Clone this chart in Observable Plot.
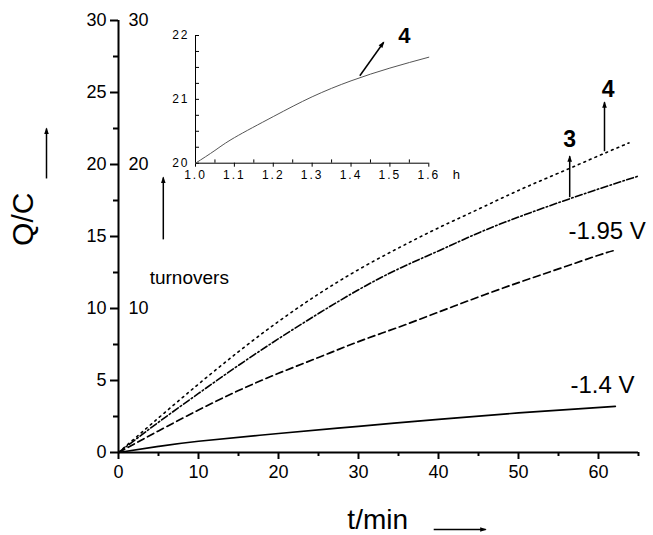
<!DOCTYPE html>
<html><head><meta charset="utf-8">
<script src="https://cdn.jsdelivr.net/npm/d3@7"></script>
<script src="https://cdn.jsdelivr.net/npm/@observablehq/plot@0.6"></script>
<style>
body{margin:0;background:#fff;}
#wrap{position:relative;width:653px;height:535px;overflow:hidden;}
#wrap svg{position:absolute;left:0;top:0;background:transparent;overflow:visible;}
</style></head><body><div id="wrap"></div>
<script>
// ---- main chart data (t in min, Q/C) ----
const t4 = [0,5,10,15,20,25,30,35,40,45,50,55,60,63.8];
const q4 = [0,2.4,4.75,7.0,9.1,11.0,12.7,14.2,15.6,16.9,18.2,19.4,20.6,21.5];
const t3 = [0,5,10,15,20,25,30,35,40,45,50,55,60,65];
const q3 = [0,2.1,4.1,6.05,7.9,9.65,11.3,12.75,14.0,15.25,16.35,17.35,18.3,19.2];
const tD = [0,5,10,15,20,25,30,35,40,45,50,55,60,62.1];
const qD = [0,1.5,2.95,4.3,5.5,6.6,7.7,8.7,9.75,10.8,11.8,12.75,13.7,14.05];
const tS = [0,5,10,20,30,40,50,62.1];
const qS = [0,0.42,0.78,1.32,1.82,2.3,2.75,3.2];

const xMajor = [0,10,20,30,40,50,60];
const xMinor = [5,15,25,35,45,55,65];
const yMajor = [0,5,10,15,20,25,30];
const yMinor = [2.5,7.5,12.5,17.5,22.5,27.5];
const turnoverTicks = [10,20,30];

const curveLabelText = ["-1.95 V","-1.4 V"];
const curveLabelX = [56.25,56.5];
const curveLabelY = [14.86,4.1];

const numLabelText = ["3","4"];
const numLabelX = [56.4,61.2];
const numLabelY = [21.2,24.67];

// arrows: [x1,y1,x2,y2]
const arrowX1 = [56.4,60.75,-9,5.6,39.4];
const arrowY1 = [17.73,20.92,19.03,14.8,-5.35];
const arrowX2 = [56.4,60.75,-9,5.6,45.9];
const arrowY2 = [20.58,24.33,22.5,19.1,-5.35];

// ---- inset data (t in h) ----
const tInset = [1.0,1.05,1.1,1.2,1.3,1.4,1.5,1.6];
const qInset = [20,20.2,20.4,20.73,21.04,21.29,21.49,21.66];
const insetXMajor = [1.0,1.1,1.2,1.3,1.4,1.5,1.6];
const insetXMinor = [1.05,1.15,1.25,1.35,1.45,1.55];
const insetYMajor = [20,21,22];
const insetYAll = [20,20.25,20.5,20.75,21,21.25,21.5,21.75,22];

const font = "Liberation Sans, Arial, sans-serif";
const pts = (t,q) => t.map((x,i)=>({t:x,q:q[i]}));
const arrows = arrowX1.map((x,i)=>({x1:x,y1:arrowY1[i],x2:arrowX2[i],y2:arrowY2[i]}));
const curveLabels = curveLabelText.map((s,i)=>({s,x:curveLabelX[i],y:curveLabelY[i]}));
const numLabels = numLabelText.map((s,i)=>({s,x:numLabelX[i],y:numLabelY[i]}));

function fillMarkers(svg){
  d3.select(svg).selectAll("marker").each(function(){
    const m = d3.select(this);
    m.attr("viewBox","-6 -5 10 10").attr("markerUnits","userSpaceOnUse")
     .attr("markerWidth",10).attr("markerHeight",10);
    m.selectAll("*").remove();
    m.append("path").attr("d","M-5.5,-2.3L1,0L-5.5,2.3Z").attr("fill","black").attr("stroke","none");
  });
}

const main = Plot.plot({
  width:653, height:535,
  marginLeft:118, marginRight:15, marginTop:20, marginBottom:83,
  x:{domain:[0,65], label:null},
  y:{domain:[0,30], label:null},
  style:{fontFamily:font, background:"transparent", color:"black"},
  marks:[
    Plot.axisY({ticks:yMajor, tickSize:8, tickPadding:4, fontSize:18, strokeWidth:2, label:null}),
    Plot.axisY({ticks:yMinor, tickSize:5, text:null, strokeWidth:2, label:null}),
    Plot.axisX({ticks:xMajor, tickSize:7, tickPadding:6, fontSize:18, strokeWidth:2, label:null}),
    Plot.axisX({ticks:xMinor, tickSize:4, text:null, strokeWidth:2, label:null}),
    Plot.ruleX([0],{y1:0,y2:30,strokeWidth:2}),
    Plot.ruleY([0],{x1:0,x2:65,strokeWidth:2}),
    Plot.text(turnoverTicks,{x:()=>0, y:d=>d, dx:10, textAnchor:"start", fontSize:18}),
    Plot.line(pts(tS,qS),{x:"t",y:"q",strokeWidth:1.7,curve:"natural"}),
    Plot.line(pts(tD,qD),{x:"t",y:"q",strokeWidth:1.7,strokeDasharray:"7,4",curve:"natural"}),
    Plot.line(pts(t3,q3),{x:"t",y:"q",strokeWidth:1.6,strokeDasharray:"7,2.5,1.5,2.5",curve:"natural"}),
    Plot.line(pts(t4,q4),{x:"t",y:"q",strokeWidth:1.6,strokeDasharray:"1.8,4.2",curve:"natural"}),
    Plot.link(arrows,{x1:"x1",y1:"y1",x2:"x2",y2:"y2",strokeWidth:1.5,markerEnd:"arrow"}),
    Plot.text(curveLabels,{x:"x",y:"y",text:"s",textAnchor:"start",lineAnchor:"bottom",fontSize:24}),
    Plot.text(numLabels,{x:"x",y:"y",text:"s",textAnchor:"middle",lineAnchor:"bottom",fontSize:23,fontWeight:"bold"}),
    Plot.text(["Q/C"],{x:()=>-10.66,y:()=>16.2,rotate:-90,textAnchor:"middle",lineAnchor:"bottom",fontSize:30}),
    Plot.text(["t/min"],{x:()=>32.4,y:()=>-5.3,textAnchor:"middle",lineAnchor:"bottom",fontSize:28}),
    Plot.text(["turnovers"],{x:()=>3.9,y:()=>11.7,textAnchor:"start",lineAnchor:"bottom",fontSize:19})
  ]
});
fillMarkers(main);

const insetArrow = [{x1:1.4226,y1:21.37,x2:1.484,y2:21.895}];
const inset = Plot.plot({
  width:300, height:200,
  marginLeft:35, marginRight:31.7, marginTop:35, marginBottom:37.3,
  x:{domain:[1.0,1.6], label:null},
  y:{domain:[20,22], label:null},
  style:{fontFamily:font, background:"transparent", color:"black"},
  marks:[
    Plot.axisY({ticks:insetYMajor, tickSize:0, tickPadding:6, fontSize:12, label:null, tickFormat:d=>String(d)}),
    Plot.ruleY(insetYAll,{insetRight:229.3, strokeWidth:1}),
    Plot.axisX({ticks:insetXMajor, tickSize:4, tickPadding:3, fontSize:12, label:null, tickFormat:d=>d.toFixed(1)}),
    Plot.ruleX(insetXMinor,{insetTop:124.4, strokeWidth:1}),
    Plot.ruleX([1.0],{y1:20,y2:22,strokeWidth:1}),
    Plot.ruleY([20],{x1:1.0,x2:1.6,strokeWidth:1}),
    Plot.text(["h"],{x:()=>1.671,y:()=>20,dy:7,textAnchor:"middle",lineAnchor:"top",fontSize:13}),
    Plot.line(pts(tInset,qInset),{x:"t",y:"q",stroke:"#555",strokeWidth:1,curve:"natural"}),
    Plot.link(insetArrow,{x1:"x1",y1:"y1",x2:"x2",y2:"y2",strokeWidth:1.5,markerEnd:"arrow"}),
    Plot.text(["4"],{x:()=>1.5375,y:()=>21.88,textAnchor:"middle",lineAnchor:"bottom",fontSize:22,fontWeight:"bold"})
  ]
});
fillMarkers(inset);
d3.select(inset).selectAll("g[aria-label='y-axis tick label'] text, g[aria-label='x-axis tick label'] text")
  .attr("letter-spacing","2px");
inset.style.left = "160px";
inset.style.top = "0px";

const wrap = document.getElementById("wrap");
wrap.appendChild(main);
wrap.appendChild(inset);
</script>
</body></html>
